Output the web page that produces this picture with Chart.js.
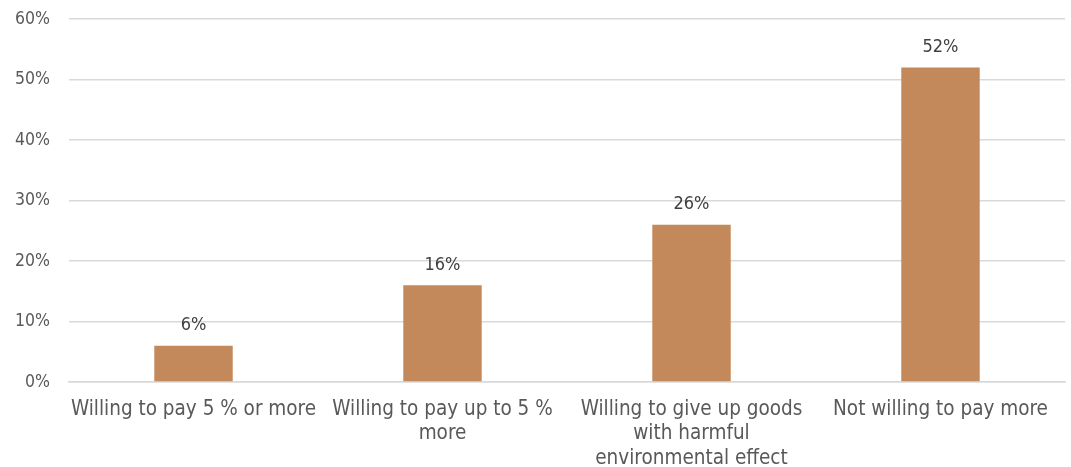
<!DOCTYPE html>
<html><head><meta charset="utf-8">
<script src="https://cdn.jsdelivr.net/npm/chart.js@4"></script>
<style>html,body{margin:0;padding:0;background:#fff}#wrap{width:1071px;height:467px}</style>
</head><body><div id="wrap"><canvas id="c" width="1071" height="467"></canvas></div>
<script>
const categories = [
  ["Willing to pay 5 % or more"],
  ["Willing to pay up to 5 %", "more"],
  ["Willing to give up goods", "with harmful", "environmental effect"],
  ["Not willing to pay more"]
];
const values = [6, 16, 26, 52];
const yTicks = [0, 10, 20, 30, 40, 50, 60];

const FONT = "'DejaVu Sans Condensed', 'DejaVu Sans', sans-serif";

const labelPlugin = {
  id: 'valLabels',
  afterDatasetsDraw(chart) {
    const ctx = chart.ctx;
    const meta = chart.getDatasetMeta(0);
    ctx.save();
    ctx.font = "18px " + FONT;
    ctx.fillStyle = "#404040";
    ctx.textAlign = "center";
    ctx.textBaseline = "middle";
    meta.data.forEach((bar, i) => {
      ctx.fillText(values[i] + "%", bar.x, bar.y - 20);
    });
    ctx.restore();
  }
};

new Chart(document.getElementById('c'), {
  type: 'bar',
  data: {
    labels: categories,
    datasets: [{
      data: values,
      backgroundColor: '#C4895A',
      categoryPercentage: 1.0,
      barPercentage: 0.315
    }]
  },
  options: {
    responsive: false,
    animation: false,
    devicePixelRatio: 1,
    layout: { padding: { top: 19, right: 6, left: 0, bottom: 0 } },
    plugins: { legend: { display: false }, tooltip: { enabled: false } },
    scales: {
      y: {
        min: 0, max: 60,
        afterFit(s) { s.width = 69; s.paddingTop = 0; s.paddingBottom = 0; },
        afterBuildTicks(s) { s.ticks = yTicks.map(v => ({ value: v })); },
        ticks: {
          callback: v => v + '%',
          color: '#595959',
          font: { family: FONT, size: 17.5 },
          padding: 19
        },
        grid: { color: '#d9d9d9', lineWidth: 1.5, drawTicks: false },
        border: { display: false }
      },
      x: {
        afterFit(s) { s.height = 85; },
        ticks: {
          color: '#595959',
          font: { family: FONT, size: 20.5, lineHeight: 1.2 },
          maxRotation: 0, autoSkip: false, padding: 15
        },
        grid: { display: false, drawTicks: false },
        border: { color: '#d9d9d9', width: 1.5 }
      }
    }
  },
  plugins: [labelPlugin]
});
</script>
</body></html>
